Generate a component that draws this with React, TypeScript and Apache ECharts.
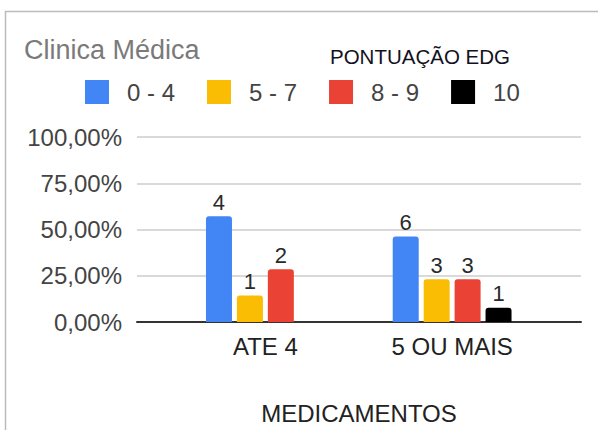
import React, { useEffect, useRef } from "react";
import * as echarts from "echarts";

const categories = ["ATE 4", "5 OU MAIS"];
const seriesNames = ["0 - 4", "5 - 7", "8 - 9", "10"];
// percentage of patients per category, per score group
const pct04 = [57.14, 46.15];
const pct57 = [14.29, 23.08];
const pct89 = [28.57, 23.08];
const pct10 = [0, 7.69];
// counts shown as labels
const cnt04 = [4, 6];
const cnt57 = [1, 3];
const cnt89 = [2, 3];
const cnt10 = [0, 1];
const yTicks = [0, 25, 50, 75, 100];

const colors = ["#4285F4", "#FBBC04", "#EA4335", "#000000"];
const FONT = "Arial";

export default function App() {
  const ref = useRef<HTMLDivElement>(null);
  useEffect(() => {
    if (!ref.current) return;
    const chart = echarts.init(ref.current, undefined, { renderer: "svg" });
    const pcts = [pct04, pct57, pct89, pct10];
    const cnts = [cnt04, cnt57, cnt89, cnt10];
    const series = seriesNames.map((name, i) => ({
      name,
      type: "bar",
      xAxisIndex: 1,
      yAxisIndex: 1,
      barWidth: 26,
      barGap: "19%",
      itemStyle: { color: colors[i], borderRadius: [3, 3, 0, 0] },
      data: pcts[i].map((v, j) => ({
        value: v,
        label: {
          show: cnts[i][j] > 0,
          formatter: String(cnts[i][j]),
        },
      })),
      label: {
        position: "top",
        distance: 3,
        fontSize: 22,
        fontFamily: FONT,
        color: "#2a2a2a",
      },
    }));
    chart.setOption({
      animation: false,
      backgroundColor: "#ffffff",
      title: [
        {
          text: "Clinica Médica",
          left: 24,
          top: 36,
          padding: 0,
          textStyle: { fontSize: 27, fontWeight: "normal", color: "#7a7a7a", fontFamily: FONT },
        },
        {
          text: "PONTUAÇÃO EDG",
          left: 330,
          top: 46,
          padding: 0,
          textStyle: { fontSize: 20.5, fontWeight: "normal", color: "#111122", fontFamily: FONT },
        },
      ],
      legend: {
        left: 85,
        top: 80,
        padding: 0,
        itemWidth: 24,
        itemHeight: 24,
        itemGap: 32,
        icon: "rect",
        data: seriesNames,
        textStyle: { fontSize: 24, color: "#444444", fontFamily: FONT, padding: [0, 0, 0, 13] },
      },
      grid: [
        { left: 137, right: 17, top: 137, bottom: 108 },
        { left: 172, right: 52.5, top: 137, bottom: 108 },
      ],
      xAxis: [
        {
          gridIndex: 0,
          type: "value",
          min: 0,
          max: 1,
          axisLine: { show: true, lineStyle: { color: "#333333", width: 2 } },
          axisTick: { show: false },
          axisLabel: { show: false },
          splitLine: { show: false },
          name: "MEDICAMENTOS",
          nameLocation: "middle",
          nameGap: 79,
          nameTextStyle: { fontSize: 24, color: "#222222", fontFamily: FONT },
        },
        {
          gridIndex: 1,
          type: "category",
          data: categories,
          axisLine: { show: false },
          axisTick: { show: false },
          axisLabel: { fontSize: 24, color: "#222222", fontFamily: FONT, margin: 12 },
        },
      ],
      yAxis: [
        {
          gridIndex: 0,
          type: "value",
          min: yTicks[0],
          max: yTicks[yTicks.length - 1],
          interval: 25,
          axisLine: { show: false },
          axisTick: { show: false },
          axisLabel: {
            margin: 15,
            fontSize: 24,
            color: "#444444",
            fontFamily: FONT,
            formatter: (v: number) => v.toFixed(2).replace(".", ",") + "%",
          },
          splitLine: { lineStyle: { color: "#cccccc", width: 1.5 } },
        },
        {
          gridIndex: 1,
          type: "value",
          min: 0,
          max: 100,
          show: false,
        },
      ],
      graphic: [
        {
          type: "polyline",
          shape: { points: [[5.5, 430], [5.5, 11.5], [598, 11.5]] },
          style: { stroke: "#bbbbbb", fill: "none", lineWidth: 1.5 },
          silent: true,
        },
      ],
      series,
    });
    return () => chart.dispose();
  }, []);
  return (
    <div
      ref={ref}
      style={{ position: "absolute", left: 0, top: 0, width: 598, height: 430 }}
    />
  );
}
